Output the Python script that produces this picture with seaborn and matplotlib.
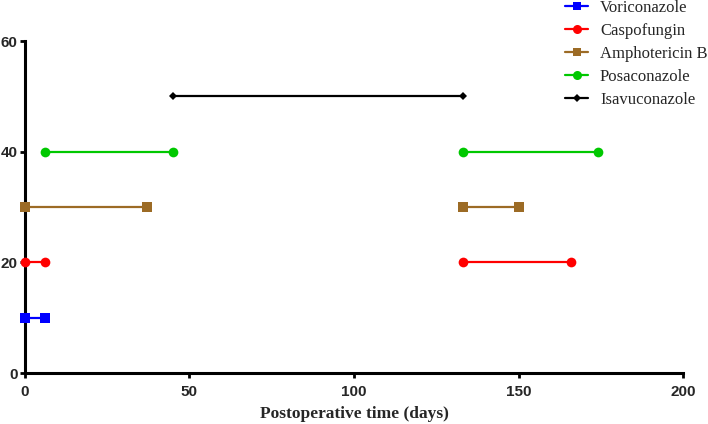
import numpy as np
import pandas as pd
import matplotlib
matplotlib.use("Agg")
import matplotlib.pyplot as plt
import seaborn as sns
from matplotlib.lines import Line2D

drugs = ["Voriconazole", "Caspofungin", "Amphotericin B", "Posaconazole", "Isavuconazole"]
# each drug: list of (start, end) segments and a y level
vori_x = [[0, 6]]
caspo_x = [[0, 6], [133, 166]]
ampho_x = [[0, 37], [133, 150]]
posa_x = [[6, 45], [133, 174]]
isavu_x = [[45, 133]]
levels = [10, 20, 30, 40, 50]
segments = [vori_x, caspo_x, ampho_x, posa_x, isavu_x]

rows = []
for d, lvl, segs in zip(drugs, levels, segments):
    for k, seg in enumerate(segs):
        for xv in seg:
            rows.append({"drug": d, "seg": f"{d}_{k}", "x": xv, "y": lvl})
df = pd.DataFrame(rows)

palette = {"Voriconazole": "#0000FF", "Caspofungin": "#FF0000", "Amphotericin B": "#9C6B25",
           "Posaconazole": "#00C800", "Isavuconazole": "#000000"}
markers = {"Voriconazole": "s", "Caspofungin": "o", "Amphotericin B": "s",
           "Posaconazole": "o", "Isavuconazole": "D"}
msize = {"Voriconazole": 6.5, "Caspofungin": 7, "Amphotericin B": 6.5,
         "Posaconazole": 7, "Isavuconazole": 4.5}

sns.set_style("ticks")
fig = plt.figure(figsize=(7.08, 4.24), dpi=100)
ax = fig.add_axes([0.035, 0.12, 0.93, 0.783])

for d in drugs:
    sub = df[df.drug == d]
    sns.lineplot(data=sub, x="x", y="y", units="seg", estimator=None, color=palette[d],
                 marker=markers[d], markersize=msize[d],
                 markeredgewidth=0, linewidth=1.6, ax=ax, legend=False, sort=False)
for ln in ax.lines:
    ln.set_clip_on(False)
    ln.set_zorder(3)

ax.set_xlim(0, 200)
ax.set_ylim(0, 60)
ax.set_xticks([0, 50, 100, 150, 200])
ax.set_yticks([0, 20, 40, 60])
for lab in ax.get_xticklabels() + ax.get_yticklabels():
    lab.set_fontfamily("Liberation Sans")
    lab.set_fontweight("bold")
    lab.set_fontsize(11)
ax.tick_params(direction="out", length=3.5, width=2, color="black", pad=1.5)
ax.tick_params(axis="x", pad=5)
for s in ["left", "bottom"]:
    ax.spines[s].set_linewidth(2.2)
    ax.spines[s].set_color("black")
ax.spines["top"].set_visible(False)
ax.spines["right"].set_visible(False)
ax.set_ylabel("")
ax.set_xlabel("Postoperative time (days)", fontfamily="Liberation Serif", fontweight="bold",
              fontsize=12.5, labelpad=5)

handles = [Line2D([0], [0], color=palette[d], marker=markers[d], lw=1.6,
                  markersize=msize[d] - 0.5, markeredgewidth=0) for d in drugs]
fig.legend(handles, drugs, loc="upper left", bbox_to_anchor=(0.798, 1.0), frameon=False,
           prop={"family": "Liberation Serif", "size": 12}, handlelength=1.4,
           handletextpad=0.7, labelspacing=0.42, borderaxespad=0, borderpad=0)

fig.savefig("out.png", dpi=100)
